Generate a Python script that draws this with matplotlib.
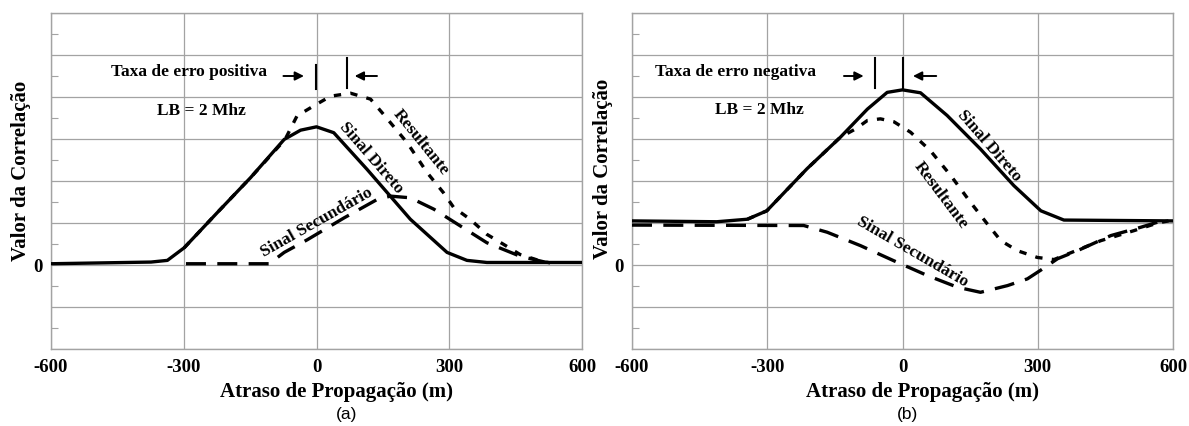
import numpy as np
import matplotlib.pyplot as plt
from matplotlib.ticker import MultipleLocator

plt.rcParams['font.family'] = ['Liberation Serif', 'DejaVu Serif']

# (a) taxa de erro positiva
direto_a_x = [-600, -374, -337, -299, -224, -149, -73, -36, 0, 39, 114, 212, 295, 340, 385, 600]
direto_a_y = [0.03, 0.07, 0.11, 0.41, 1.25, 2.08, 2.99, 3.21, 3.29, 3.15, 2.28, 1.09, 0.30, 0.11, 0.06, 0.06]
secund_a_x = [-295, -107, -73, -21, 62, 137, 167, 212, 265, 325, 385, 460, 520]
secund_a_y = [0.03, 0.03, 0.30, 0.60, 1.12, 1.56, 1.64, 1.60, 1.33, 0.93, 0.53, 0.21, 0.06]
result_a_x = [-299, -224, -149, -71, -44, -6, 32, 77, 122, 148, 205, 250, 287, 310, 347, 385, 423, 460, 505, 528]
result_a_y = [0.41, 1.25, 2.08, 2.99, 3.55, 3.79, 4.02, 4.09, 3.95, 3.63, 2.91, 2.20, 1.72, 1.37, 1.09, 0.73, 0.49, 0.25, 0.10, 0.05]

# (b) taxa de erro negativa
direto_b_x = [-600, -412, -344, -301, -212, -138, -78, -34, 0, 40, 99, 173, 247, 307, 358, 600]
direto_b_y = [1.05, 1.03, 1.09, 1.29, 2.29, 3.04, 3.71, 4.11, 4.17, 4.10, 3.56, 2.76, 1.89, 1.29, 1.07, 1.05]
secund_b_x = [-600, -219, -167, -93, -19, 55, 122, 173, 233, 277, 307, 344, 388, 462, 529, 566, 590]
secund_b_y = [0.95, 0.94, 0.78, 0.46, 0.10, -0.25, -0.53, -0.65, -0.49, -0.33, -0.12, 0.15, 0.34, 0.70, 0.90, 1.02, 1.05]
result_b_x = [-344, -301, -212, -138, -104, -78, -49, -19, 18, 62, 107, 151, 188, 218, 255, 299, 336, 366, 440, 514, 566, 590]
result_b_y = [1.09, 1.29, 2.29, 3.04, 3.24, 3.44, 3.48, 3.41, 3.16, 2.72, 2.13, 1.49, 0.98, 0.58, 0.34, 0.18, 0.13, 0.26, 0.58, 0.82, 1.00, 1.05]

xticks = [-600, -300, 0, 300, 600]
yticks = list(range(-2, 7))

GRID = '#a3a3a3'
LW = 2.4


def draw_panel(ax, dx, dy, sx, sy, rx, ry):
    ax.plot(dx, dy, color='black', lw=LW, solid_capstyle='butt', zorder=4)
    ax.plot(sx, sy, color='black', lw=LW, linestyle=(0, (6, 3.4)), zorder=3)
    ax.plot(rx, ry, color='black', lw=LW, linestyle=(0, (2.2, 2.8)), zorder=3)

    ax.set_xlim(-600, 600)
    ax.set_ylim(-2, 6)
    ax.set_xticks(xticks)
    ax.set_xticklabels([str(v) for v in xticks], fontsize=13.5, fontweight='bold')
    ax.set_yticks(yticks)
    ax.set_yticklabels(['0' if v == 0 else '' for v in yticks], fontsize=13.5, fontweight='bold')
    ax.yaxis.set_minor_locator(MultipleLocator(0.5))
    ax.tick_params(which='major', length=0)
    ax.tick_params(axis='x', pad=7)
    ax.tick_params(axis='y', pad=6)
    ax.tick_params(axis='y', which='minor', direction='in', length=5, width=0.8, color=GRID)
    ax.grid(True, which='major', color=GRID, lw=0.9)
    ax.set_axisbelow(True)
    for s in ax.spines.values():
        s.set_color(GRID)
        s.set_linewidth(1.0)


def marker_arrows(ax, text, tx, ty, bar1, bar2, arr_r, arr_l, ay):
    ax.text(tx, ty, text, fontsize=12.5, fontweight='bold', ha='left', va='center')
    ax.annotate('', xy=(arr_r[1], ay), xytext=(arr_r[0], ay),
                arrowprops=dict(arrowstyle='-|>', color='black', lw=1.4, mutation_scale=13))
    ax.annotate('', xy=(arr_l[1], ay), xytext=(arr_l[0], ay),
                arrowprops=dict(arrowstyle='-|>', color='black', lw=1.4, mutation_scale=13))
    for bx, y0, y1 in (bar1, bar2):
        ax.plot([bx, bx], [y0, y1], color='black', lw=1.5, zorder=5)


fig = plt.figure(figsize=(11.89, 4.26), dpi=100)
ax_a = fig.add_axes([51 / 1189, 77 / 426, 531 / 1189, 336 / 426])
ax_b = fig.add_axes([632 / 1189, 77 / 426, 541 / 1189, 336 / 426])

draw_panel(ax_a, direto_a_x, direto_a_y, secund_a_x, secund_a_y, result_a_x, result_a_y)
draw_panel(ax_b, direto_b_x, direto_b_y, secund_b_x, secund_b_y, result_b_x, result_b_y)

# (a) annotations
marker_arrows(ax_a, 'Taxa de erro positiva', -465, 4.6,
              (-1, 4.18, 4.76), (68, 4.22, 4.92), (-81, -22), (143, 80), 4.5)
ax_a.text(-260, 3.67, 'LB = 2 Mhz', fontsize=12.5, fontweight='bold', ha='center', va='center')
ax_a.text(235, 2.91, 'Resultante', fontsize=12.5, fontweight='bold', ha='center', va='center',
          rotation=-51, rotation_mode='anchor')
ax_a.text(123, 2.56, 'Sinal Direto', fontsize=12.5, fontweight='bold', ha='center', va='center',
          rotation=-49, rotation_mode='anchor')
ax_a.text(0, 1.02, 'Sinal Secundário', fontsize=12.5, fontweight='bold', ha='center', va='center',
          rotation=29.5, rotation_mode='anchor')

# (b) annotations
marker_arrows(ax_b, 'Taxa de erro negativa', -550, 4.6,
              (-60, 4.22, 4.94), (0, 4.17, 4.94), (-136, -80), (81, 17), 4.5)
ax_b.text(-318, 3.68, 'LB = 2 Mhz', fontsize=12.5, fontweight='bold', ha='center', va='center')
ax_b.text(192, 2.84, 'Sinal Direto', fontsize=12.5, fontweight='bold', ha='center', va='center',
          rotation=-49, rotation_mode='anchor')
ax_b.text(84, 1.65, 'Resultante', fontsize=12.5, fontweight='bold', ha='center', va='center',
          rotation=-53, rotation_mode='anchor')
ax_b.text(23, 0.30, 'Sinal Secundário', fontsize=12.5, fontweight='bold', ha='center', va='center',
          rotation=-30, rotation_mode='anchor')

# axis titles and panel letters
for xl, yl_x, yl_y, px, letter in ((336, 21, 171, 347, '(a)'), (923, 603, 169, 907, '(b)')):
    fig.text(xl / 1189, 1 - 392 / 426, 'Atraso de Propagação (m)', fontsize=15,
             fontweight='bold', ha='center', va='center')
    fig.text(yl_x / 1189, 1 - yl_y / 426, 'Valor da Correlação', fontsize=15,
             fontweight='bold', ha='center', va='center', rotation=90)
    fig.text(px / 1189, 1 - 415 / 426, letter, fontsize=12.5, family='Liberation Sans',
             ha='center', va='center')

fig.savefig('out.png', dpi=100)
